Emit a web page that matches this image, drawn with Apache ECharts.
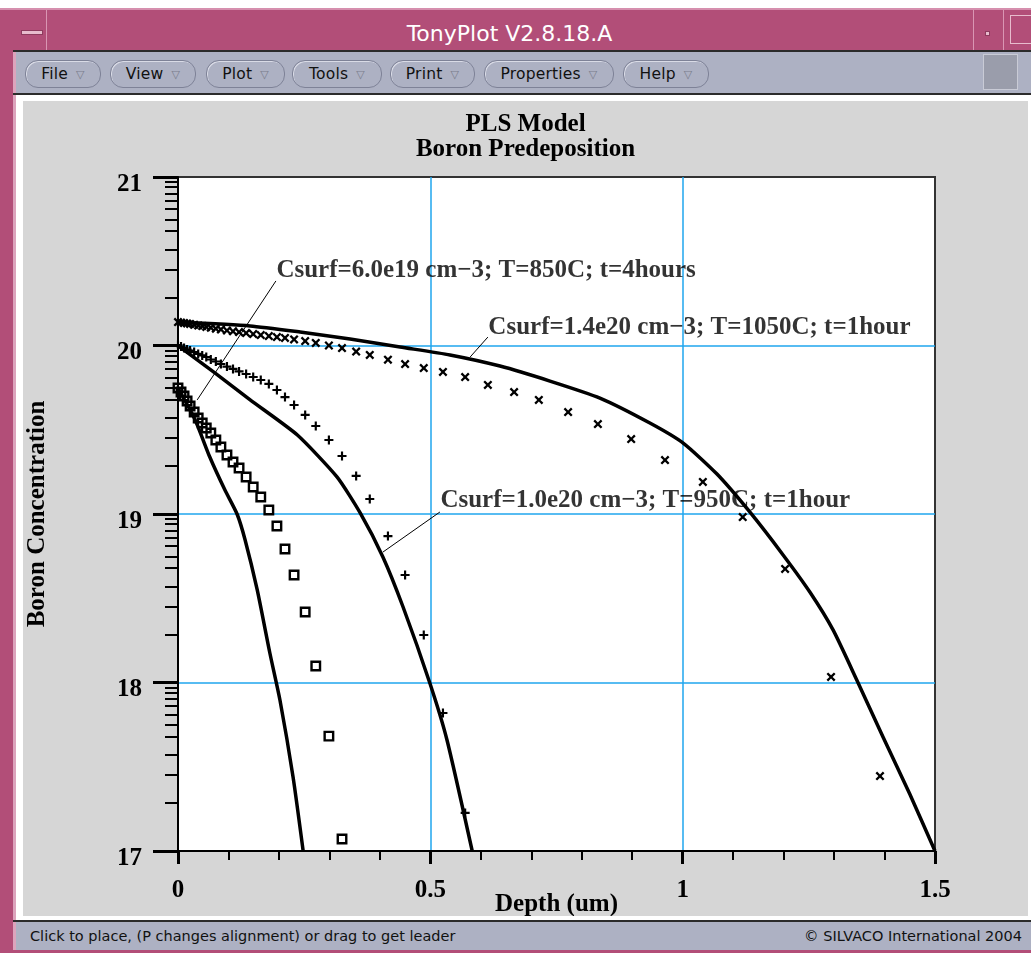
<!DOCTYPE html>
<html>
<head>
<meta charset="utf-8">
<title>TonyPlot V2.8.18.A</title>
<script src="https://cdn.jsdelivr.net/npm/echarts@6/dist/echarts.min.js"></script>
<style>
  html, body { margin: 0; padding: 0; background: #fff; }
  #win { position: relative; width: 1031px; height: 953px; overflow: hidden; background: #fff;
         font-family: "DejaVu Sans", sans-serif; }
  .a { position: absolute; box-sizing: border-box; }
  .pill { position: absolute; top: 60px; height: 26px; border: 1px solid #7e8297; border-radius: 13px;
          box-shadow: inset 1px 1px 0 #d9dbe6; display: flex; align-items: center; justify-content: center;
          font-size: 15.5px; color: #111; letter-spacing: 0.2px; }
  .pill .tri { font-size: 11px; color: #7a7d8c; margin-left: 8px; }
  #chart { position: absolute; left: 23px; top: 101px; width: 1005px; height: 815px; background: #d6d6d6; }
</style>
</head>
<body>
<div id="win">
  <!-- window frame -->
  <div class="a" style="left:0;top:8px;width:13px;height:945px;background:#b24e78;"></div>
  <div class="a" style="left:13px;top:50px;width:3px;height:903px;background:#dca3bc;"></div>
  <!-- title bar -->
  <div class="a" style="left:0;top:8px;width:1031px;height:42px;background:#b24e78;border-top:2px solid #d68fae;"></div>
  <div class="a" style="left:21px;top:30px;width:22px;height:5px;background:#e7bccd;border:1px solid #8e3b5e;"></div>
  <div class="a" style="left:46px;top:10px;width:1px;height:40px;background:#d996b3;"></div>
  <div class="a" style="left:0;top:13px;width:1019px;height:42px;line-height:42px;text-align:center;color:#fff;font-size:22px;">TonyPlot V2.8.18.A</div>
  <div class="a" style="left:973px;top:10px;width:1px;height:40px;background:#d996b3;"></div>
  <div class="a" style="left:985px;top:31px;width:5px;height:5px;background:#e7bccd;border:1px solid #8e3b5e;"></div>
  <div class="a" style="left:1003px;top:10px;width:1px;height:40px;background:#d996b3;"></div>
  <div class="a" style="left:1010px;top:15px;width:24px;height:29px;border:1px solid #e7bccd;"></div>
  <!-- menu bar -->
  <div class="a" style="left:13px;top:50px;width:1018px;height:2px;background:#2b2b2b;"></div>
  <div class="a" style="left:16px;top:52px;width:1015px;height:41px;background:#adb1c3;"></div>
  <div class="pill" style="left:25px;width:74px;">File<span class="tri">&#9661;</span></div>
  <div class="pill" style="left:110px;width:84px;">View<span class="tri">&#9661;</span></div>
  <div class="pill" style="left:206px;width:77px;">Plot<span class="tri">&#9661;</span></div>
  <div class="pill" style="left:292px;width:88px;">Tools<span class="tri">&#9661;</span></div>
  <div class="pill" style="left:390px;width:83px;">Print<span class="tri">&#9661;</span></div>
  <div class="pill" style="left:484px;width:128px;">Properties<span class="tri">&#9661;</span></div>
  <div class="pill" style="left:623px;width:84px;">Help<span class="tri">&#9661;</span></div>
  <div class="a" style="left:983px;top:54px;width:35px;height:36px;background:#9a9dab;border:1px solid #c9cbd6;"></div>
  <div class="a" style="left:13px;top:93px;width:1018px;height:2px;background:#2b2b2b;"></div>
  <!-- canvas area -->
  <div class="a" style="left:16px;top:95px;width:1015px;height:825px;background:#fff;"></div>
  <div id="chart"></div>
  <!-- status bar -->
  <div class="a" style="left:13px;top:920px;width:1018px;height:2px;background:#2b2b2b;"></div>
  <div class="a" style="left:16px;top:922px;width:1015px;height:28px;background:#adb1c3;"></div>
  <div class="a" style="left:30px;top:922px;height:28px;line-height:28px;font-size:14.5px;color:#111;">Click to place, (P changes alignment) or drag to get leader</div>
  <div class="a" style="right:9px;top:922px;height:28px;line-height:28px;font-size:14.5px;color:#111;">&copy; SILVACO International 2004</div>
  <div class="a" style="left:0;top:950px;width:1031px;height:3px;background:#b24e78;"></div>
</div>

<script>
// Depth tick labels (um)
const depthTicks = [0, 0.5, 1, 1.5];
const depthTickLabels = ['0', '0.5', '1', '1.5'];
// log10 boron concentration tick labels
const concTicks = [17, 18, 19, 20, 21];
const concTickLabels = ['17', '18', '19', '20', '21'];

// Depth mesh shared by the simulated point sets (um)
const depthMesh = [0, 0.006, 0.012, 0.018, 0.024, 0.032, 0.040, 0.048, 0.056, 0.065, 0.075, 0.085,
  0.097, 0.109, 0.121, 0.135, 0.149, 0.164, 0.180, 0.196, 0.212, 0.230, 0.252, 0.273, 0.299, 0.325,
  0.353, 0.380, 0.416, 0.450, 0.487, 0.525, 0.569, 0.614, 0.666, 0.715, 0.773, 0.832, 0.898, 0.965,
  1.040, 1.119, 1.203, 1.294, 1.391];

// Point sets: log10 concentration at the mesh depths
const pts1050C = [20.139, 20.136, 20.133, 20.131, 20.128, 20.123, 20.119, 20.115, 20.110, 20.106,
  20.100, 20.095, 20.089, 20.084, 20.080, 20.074, 20.068, 20.062, 20.056, 20.050, 20.045, 20.036,
  20.026, 20.015, 20.000, 19.985, 19.964, 19.944, 19.916, 19.890, 19.866, 19.843, 19.813, 19.766,
  19.724, 19.677, 19.605, 19.534, 19.445, 19.320, 19.190, 18.982, 18.674, 18.033, 17.445];
const pts950C = [20.003, 19.994, 19.985, 19.976, 19.970, 19.961, 19.950, 19.941, 19.932, 19.917,
  19.905, 19.890, 19.875, 19.861, 19.846, 19.831, 19.813, 19.795, 19.772, 19.736, 19.694, 19.647,
  19.588, 19.522, 19.439, 19.344, 19.226, 19.089, 18.869, 18.638, 18.282, 17.819, 17.226];
const pts850C = [19.748, 19.724, 19.700, 19.671, 19.641, 19.605, 19.570, 19.540, 19.510, 19.481,
  19.439, 19.398, 19.350, 19.309, 19.273, 19.220, 19.160, 19.101, 19.024, 18.929, 18.792, 18.638,
  18.418, 18.098, 17.682, 17.071];

// PLS model curves
const curve1050Depth = [0, 0.143, 0.242, 0.341, 0.44, 0.539, 0.638, 0.737, 0.836, 0.935, 1.001,
  1.068, 1.133, 1.199, 1.252, 1.298, 1.345, 1.397, 1.45, 1.5];
const curve1050Conc  = [20.139, 20.116, 20.08, 20.039, 19.991, 19.944, 19.878, 19.789, 19.688, 19.54, 19.421,
  19.237, 19.012, 18.757, 18.537, 18.312, 18.015, 17.677, 17.338, 17.0];
const curve950Depth = [0, 0.073, 0.143, 0.236, 0.315, 0.361, 0.406, 0.446, 0.499, 0.533, 0.583];
const curve950Conc  = [20.0, 19.837, 19.677, 19.47, 19.22, 19.006, 18.745, 18.448, 17.997, 17.659, 17.0];
const curve850Depth = [0, 0.034, 0.063, 0.093, 0.117, 0.133, 0.157, 0.182, 0.202, 0.228, 0.248];
const curve850Conc  = [19.748, 19.558, 19.338, 19.142, 19.0, 18.846, 18.549, 18.175, 17.896, 17.439, 17.0];

// Curve annotations with leaders (text anchor, leader start, leader end in data units)
const noteTexts = ['Csurf=6.0e19 cm\u22123; T=850C; t=4hours',
                   'Csurf=1.4e20 cm\u22123; T=1050C; t=1hour',
                   'Csurf=1.0e20 cm\u22123; T=950C; t=1hour'];
const noteAnchors = [[0.194, 20.442], [0.614, 20.104], [0.519, 19.077]];
const leaderStarts = [[0.194, 20.383], [0.614, 20.05], [0.519, 19.012]];
const leaderEnds = [[0.038, 19.677], [0.579, 19.932], [0.406, 18.774]];

// Fractional positions of the minor ticks within each decade
const minorFrac = [0.285, 0.451, 0.569, 0.68, 0.749, 0.811, 0.861, 0.903, 0.94, 0.97];

const SERIF = '"Liberation Serif", "Times New Roman", serif';
const CYAN = '#1fa6ee';
const zip = (xs, ys) => ys.map((v, i) => [xs[i], v]);
const pickLabel = (ticks, labels) => v => {
  const i = ticks.findIndex(t => Math.abs(t - v) < 1e-9);
  return i >= 0 ? labels[i] : '';
};

const minorTicks = [];
for (let d = concTicks[0]; d < concTicks[concTicks.length - 1]; d++) {
  minorFrac.forEach(f => minorTicks.push(+(d + f).toFixed(3)));
}

const CROSS = 'path://M0,1.8 L1.8,0 L5,3.2 L8.2,0 L10,1.8 L6.8,5 L10,8.2 L8.2,10 L5,6.8 L1.8,10 L0,8.2 L3.2,5 Z';
const PLUS = 'path://M3.8,0 H6.2 V3.8 H10 V6.2 H6.2 V10 H3.8 V6.2 H0 V3.8 H3.8 Z';

const boldText = { fontFamily: SERIF, fontWeight: 'bold', fontSize: 25, color: '#000' };

const curve = (xs, ys) => ({
  type: 'line', data: zip(xs, ys), symbol: 'none', showSymbol: false, smooth: 0.2,
  clip: true, silent: true, z: 3,
  lineStyle: { color: '#000', width: 3.5, join: 'round' }
});

const series = [
  curve(curve1050Depth, curve1050Conc),
  curve(curve950Depth, curve950Conc),
  curve(curve850Depth, curve850Conc),
  { type: 'scatter', data: zip(depthMesh, pts1050C), symbol: CROSS, symbolSize: 9, silent: true, z: 4,
    itemStyle: { color: '#000', opacity: 1 } },
  { type: 'scatter', data: zip(depthMesh, pts950C), symbol: PLUS, symbolSize: 9, silent: true, z: 4,
    itemStyle: { color: '#000', opacity: 1 } },
  { type: 'scatter', data: zip(depthMesh, pts850C), symbol: 'rect', symbolSize: 8.5, silent: true, z: 4,
    itemStyle: { color: 'rgba(0,0,0,0)', borderColor: '#000', borderWidth: 2.4, opacity: 1 } }
];

noteTexts.forEach((txt, i) => {
  series.push({
    type: 'line', data: [leaderStarts[i], leaderEnds[i]], symbol: 'none', silent: true, z: 5,
    lineStyle: { color: '#000', width: 1 }
  });
  series.push({
    type: 'scatter', data: [noteAnchors[i]], symbolSize: 1, silent: true, z: 6,
    itemStyle: { color: 'rgba(0,0,0,0)' },
    label: Object.assign({ show: true, position: 'right', distance: 0, lineHeight: 25,
                           formatter: () => txt }, boldText)
  });
});

const chart = echarts.init(document.getElementById('chart'));
chart.setOption({
  animation: false,
  backgroundColor: '#d6d6d6',
  title: [
    { text: 'PLS Model', left: 'center', top: 11, padding: 0,
      textStyle: Object.assign({ lineHeight: 25 }, boldText) },
    { text: 'Boron Predeposition', left: 'center', top: 36, padding: 0,
      textStyle: Object.assign({ lineHeight: 25 }, boldText) }
  ],
  grid: { left: 155, top: 76, width: 757, height: 674, show: true, backgroundColor: '#fff',
          borderColor: '#333', borderWidth: 2, containLabel: false, outerBoundsMode: 'none' },
  xAxis: {
    type: 'value', min: depthTicks[0], max: depthTicks[depthTicks.length - 1], interval: 0.5,
    axisLine: { show: true, onZero: false, lineStyle: { color: '#000', width: 2 } },
    axisTick: { show: true, length: 13, lineStyle: { color: '#000', width: 3 } },
    minorTick: { show: true, splitNumber: 5, length: 9, lineStyle: { color: '#000', width: 2 } },
    axisLabel: Object.assign({ margin: 27, lineHeight: 25, formatter: pickLabel(depthTicks, depthTickLabels) }, boldText),
    splitLine: { show: true, showMinLine: false, showMaxLine: false, lineStyle: { color: CYAN, width: 1.5 } },
    name: 'Depth (um)', nameLocation: 'middle', nameGap: 41, nameMoveOverlap: false,
    nameTextStyle: Object.assign({ lineHeight: 25 }, boldText)
  },
  yAxis: [
    {
      type: 'value', min: concTicks[0], max: concTicks[concTicks.length - 1], interval: 1,
      axisLine: { show: true, onZero: false, lineStyle: { color: '#000', width: 2 } },
      axisTick: { show: true, length: 25, lineStyle: { color: '#000', width: 3 } },
      axisLabel: Object.assign({ margin: 36, verticalAlign: 'top', lineHeight: 15,
                                 formatter: pickLabel(concTicks, concTickLabels) }, boldText),
      splitLine: { show: true, showMinLine: false, showMaxLine: false, lineStyle: { color: CYAN, width: 1.5 } },
      name: 'Boron Concentration', nameLocation: 'middle', nameGap: 128, nameMoveOverlap: false,
      nameTextStyle: Object.assign({ lineHeight: 25 }, boldText)
    },
    {
      type: 'value', min: concTicks[0], max: concTicks[concTicks.length - 1], position: 'left',
      axisLine: { show: false },
      axisLabel: { show: false },
      splitLine: { show: false },
      axisTick: { show: true, length: 13, customValues: minorTicks, lineStyle: { color: '#000', width: 2 } }
    }
  ],
  series: series
});
</script>
</body>
</html>
